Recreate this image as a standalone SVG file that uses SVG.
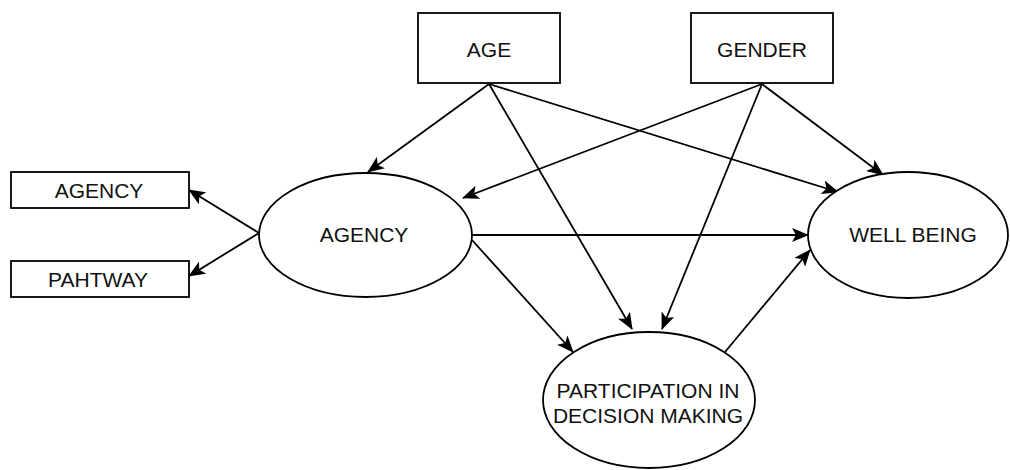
<svg xmlns="http://www.w3.org/2000/svg" width="1010" height="470" viewBox="0 0 1010 470">
<style>
.box{fill:#fff;stroke:#000;stroke-width:1.8}
.lbl{font-family:"Liberation Sans",Arial,sans-serif;font-size:21px;fill:#111;text-anchor:middle}
.edge{stroke:#000;stroke-width:1.8;fill:none;marker-end:url(#arr)}
</style>
<defs>
<marker id="arr" markerUnits="userSpaceOnUse" markerWidth="18" markerHeight="14" refX="16" refY="7" orient="auto">
<path d="M0,0 L17,7 L0,14 L4,7 z" fill="#000"/>
</marker>
</defs>
<rect width="1010" height="470" fill="#fff"/>
<g id="connectors">
<line class="edge" x1="489" y1="84" x2="368" y2="172"/>
<line class="edge" x1="489" y1="84" x2="632" y2="329"/>
<line class="edge" x1="489" y1="84" x2="838" y2="192"/>
<line class="edge" x1="762" y1="84" x2="463" y2="198"/>
<line class="edge" x1="762" y1="84" x2="662" y2="329"/>
<line class="edge" x1="762" y1="84" x2="883" y2="175"/>
<line class="edge" x1="472" y1="235" x2="808" y2="235"/>
<line class="edge" x1="472" y1="240" x2="573" y2="352"/>
<line class="edge" x1="725" y1="352" x2="810" y2="250"/>
<line class="edge" x1="259" y1="233" x2="189" y2="190"/>
<line class="edge" x1="259" y1="233" x2="189" y2="276"/>
</g>
<g id="age">
<rect class="box" x="418" y="13" width="142" height="70"/>
<text class="lbl" x="489" y="57">AGE</text>
</g>
<g id="gender">
<rect class="box" x="691" y="13" width="142" height="70"/>
<text class="lbl" x="762" y="57">GENDER</text>
</g>
<g id="agency-box">
<rect class="box" x="11" y="172" width="178" height="36"/>
<text class="lbl" x="99" y="198">AGENCY</text>
</g>
<g id="pathway-box">
<rect class="box" x="11" y="261" width="178" height="36"/>
<text class="lbl" x="98" y="287">PAHTWAY</text>
</g>
<g id="agency">
<ellipse class="box" cx="365.5" cy="235" rx="106.5" ry="62"/>
<text class="lbl" x="364" y="242">AGENCY</text>
</g>
<g id="wellbeing">
<ellipse class="box" cx="908" cy="235" rx="100" ry="63"/>
<text class="lbl" x="913" y="242">WELL BEING</text>
</g>
<g id="participation">
<ellipse class="box" cx="649" cy="400" rx="106" ry="68"/>
<text class="lbl" x="648" y="398">PARTICIPATION IN</text>
<text class="lbl" x="648" y="423">DECISION MAKING</text>
</g>
</svg>
